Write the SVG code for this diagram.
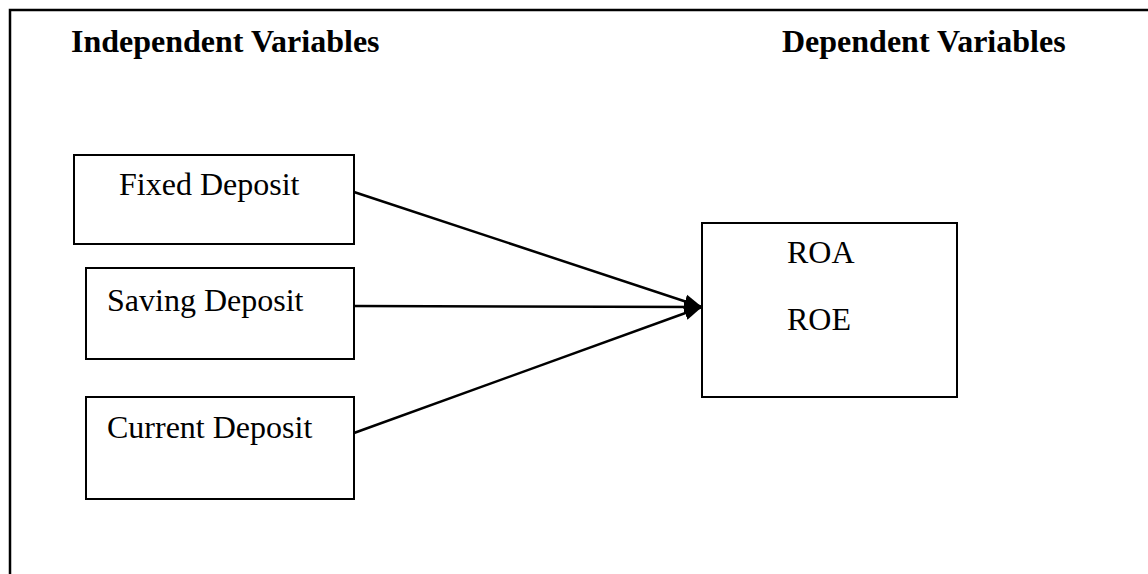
<svg xmlns="http://www.w3.org/2000/svg" width="1148" height="574" viewBox="0 0 1148 574">
<style>
.box{fill:#fff;stroke:#000;stroke-width:2}
.t{font-family:"Liberation Serif","Times New Roman",serif;font-size:32px;fill:#000}
.h{font-weight:bold}
.c{stroke:#000;stroke-width:2.5;fill:none}
</style>
<defs>
<marker id="ah" markerUnits="userSpaceOnUse" markerWidth="20" markerHeight="16" refX="18" refY="8" orient="auto">
<path d="M0,1 L18,8 L0,15 Z" fill="#000"/>
</marker>
</defs>
<rect width="1148" height="574" fill="#fff"/>
<path d="M10,574 L10,10 L1148,10" fill="none" stroke="#000" stroke-width="2.5"/>
<text class="t h" x="71" y="52">Independent Variables</text>
<text class="t h" x="782" y="52">Dependent Variables</text>
<g id="fixed"><rect class="box" x="74" y="155" width="280" height="89"/><text class="t" x="119" y="195">Fixed Deposit</text></g>
<g id="saving"><rect class="box" x="86" y="268" width="268" height="91"/><text class="t" x="107" y="311">Saving Deposit</text></g>
<g id="current"><rect class="box" x="86" y="397" width="268" height="102"/><text class="t" x="107" y="438">Current Deposit</text></g>
<g id="result"><rect class="box" x="702" y="223" width="255" height="174"/><text class="t" x="787" y="263">ROA</text><text class="t" x="787" y="330">ROE</text></g>
<g id="connectors">
<line class="c" x1="354" y1="192" x2="702" y2="307" marker-end="url(#ah)"/>
<line class="c" x1="354" y1="306" x2="702" y2="307" marker-end="url(#ah)"/>
<line class="c" x1="354" y1="433" x2="702" y2="307" marker-end="url(#ah)"/>
</g>
</svg>
